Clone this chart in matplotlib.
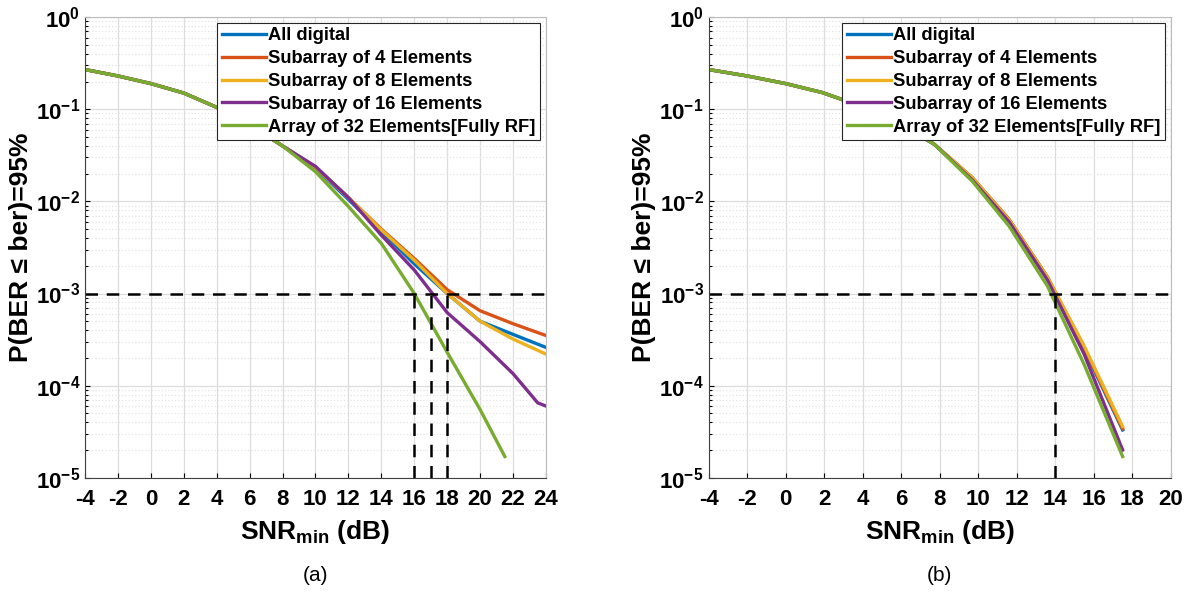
import numpy as np
import matplotlib
matplotlib.use('Agg')
import matplotlib.pyplot as plt
from matplotlib.ticker import FixedLocator, FuncFormatter, LogLocator, NullFormatter

plt.rcParams['font.family'] = ['Liberation Sans', 'DejaVu Sans']
plt.rcParams['mathtext.fontset'] = 'custom'
plt.rcParams['mathtext.rm'] = 'Liberation Sans'
plt.rcParams['mathtext.bf'] = 'Liberation Sans:bold'
plt.rcParams['axes.unicode_minus'] = False

labels = ['All digital', 'Subarray of 4 Elements', 'Subarray of 8 Elements',
          'Subarray of 16 Elements', 'Array of 32 Elements[Fully RF]']
colors = ['#0072BD', '#D95319', '#EDB120', '#7E2F8E', '#77AC30']

# (a) 数据
snr_a = [-4, -2, 0, 2, 4, 6, 8, 10, 12, 14, 16, 18, 20, 22, 24]
digital_a = [0.27, 0.23, 0.19, 0.15, 0.105, 0.068, 0.04, 0.023, 0.0105, 0.0047, 0.0021, 0.00100, 0.00050, 0.00036, 0.00026]
sub4_a = [0.27, 0.23, 0.19, 0.15, 0.105, 0.068, 0.04, 0.0235, 0.011, 0.0050, 0.0024, 0.00110, 0.00065, 0.00047, 0.00035]
sub8_a = [0.27, 0.23, 0.19, 0.15, 0.105, 0.068, 0.04, 0.0235, 0.011, 0.0049, 0.0023, 0.00100, 0.00050, 0.00032, 0.00022]
snr16_a = [-4, -2, 0, 2, 4, 6, 8, 10, 12, 14, 16, 18, 20, 22, 23.5, 24]
sub16_a = [0.27, 0.23, 0.19, 0.15, 0.105, 0.068, 0.04, 0.024, 0.011, 0.0043, 0.0018, 0.00062, 0.00030, 0.000135, 0.000065, 0.00006]
snr32_a = [-4, -2, 0, 2, 4, 6, 8, 10, 12, 14, 16, 18, 20, 21.5]
full_a = [0.27, 0.23, 0.19, 0.15, 0.105, 0.068, 0.04, 0.021, 0.0088, 0.0035, 0.0010, 0.00023, 0.000055, 0.000017]
cross_a = [16, 17, 18]

# (b) 数据
snr_b = [-4, -2, 0, 1.9, 3.8, 5.8, 7.7, 9.7, 11.6, 13.6, 15.5, 17.5]
digital_b = [0.27, 0.23, 0.19, 0.152, 0.11, 0.072, 0.042, 0.018, 0.0063, 0.0015, 0.00025, 0.000033]
sub4_b = [0.27, 0.23, 0.19, 0.152, 0.11, 0.072, 0.042, 0.018, 0.0064, 0.0015, 0.00026, 0.000034]
sub8_b = [0.27, 0.23, 0.19, 0.152, 0.11, 0.072, 0.042, 0.018, 0.0063, 0.0015, 0.00027, 0.000036]
sub16_b = [0.27, 0.23, 0.19, 0.152, 0.11, 0.072, 0.042, 0.017, 0.0060, 0.0014, 0.00022, 0.000020]
full_b = [0.27, 0.23, 0.19, 0.152, 0.11, 0.072, 0.042, 0.0165, 0.0054, 0.0012, 0.00017, 0.000017]
cross_b = [14]

target = 1e-3

fig = plt.figure(figsize=(11.91, 5.92), dpi=100)
ax_a = fig.add_axes([0.0714, 0.193, 0.387, 0.778])
ax_b = fig.add_axes([0.595, 0.193, 0.388, 0.778])


def style(ax, xmax, xticks):
    ax.set_yscale('log')
    ax.set_xlim(-4, xmax)
    ax.set_ylim(1e-5, 1)
    ax.xaxis.set_major_locator(FixedLocator(xticks))
    ax.yaxis.set_major_locator(LogLocator(base=10, numticks=10))
    ax.yaxis.set_minor_locator(LogLocator(base=10, subs=np.arange(2, 10), numticks=10))
    ax.yaxis.set_minor_formatter(NullFormatter())
    ax.yaxis.set_major_formatter(FuncFormatter(
        lambda v, p: r'$\mathbf{10^{%d}}$' % int(round(np.log10(v)))))
    ax.grid(True, which='major', color='#dddddd', linewidth=0.9)
    ax.grid(True, which='minor', axis='y', color='#e4e4e4', linestyle=':', linewidth=0.9)
    ax.tick_params(which='both', direction='in', labelsize=16, width=0.8)
    ax.tick_params(axis='x', pad=8)
    for t in ax.get_xticklabels():
        t.set_fontweight('bold')
    for s in ['left', 'bottom']:
        ax.spines[s].set_color('#404040')
    for s in ['top', 'right']:
        ax.spines[s].set_color('#bbbbbb')
    ax.set_xlabel(r'SNR$_{\mathbf{min}}$ (dB)', fontsize=19, fontweight='bold', labelpad=6)
    ax.set_ylabel('P(BER ≤ ber)=95%', fontsize=19, fontweight='bold', labelpad=2)
    ax.set_axisbelow(True)


# (a)
ax_a.plot(snr_a, digital_a, color=colors[0], lw=2.4, label=labels[0])
ax_a.plot(snr_a, sub4_a, color=colors[1], lw=2.4, label=labels[1])
ax_a.plot(snr_a, sub8_a, color=colors[2], lw=2.4, label=labels[2])
ax_a.plot(snr16_a, sub16_a, color=colors[3], lw=2.4, label=labels[3])
ax_a.plot(snr32_a, full_a, color=colors[4], lw=2.4, label=labels[4])
ax_a.plot([-4, 24], [target, target], 'k--', lw=1.8, dashes=(5, 3.5))
for c in cross_a:
    ax_a.plot([c, c], [1e-5, target], 'k--', lw=1.8, dashes=(5, 3.5))
style(ax_a, 24, list(range(-4, 25, 2)))

# (b)
ax_b.plot(snr_b, digital_b, color=colors[0], lw=2.4, label=labels[0])
ax_b.plot(snr_b, sub4_b, color=colors[1], lw=2.4, label=labels[1])
ax_b.plot(snr_b, sub8_b, color=colors[2], lw=2.4, label=labels[2])
ax_b.plot(snr_b, sub16_b, color=colors[3], lw=2.4, label=labels[3])
ax_b.plot(snr_b, full_b, color=colors[4], lw=2.4, label=labels[4])
ax_b.plot([-4, 20], [target, target], 'k--', lw=1.8, dashes=(5, 3.5))
for c in cross_b:
    ax_b.plot([c, c], [1e-5, target], 'k--', lw=1.8, dashes=(5, 3.5))
style(ax_b, 20, list(range(-4, 21, 2)))

for ax in [ax_a, ax_b]:
    leg = ax.legend(loc='upper right', prop={'weight': 'bold', 'size': 13.2},
                    handlelength=2.4, handletextpad=0.15, labelspacing=0.32,
                    borderpad=0.25, borderaxespad=0.3, fancybox=False,
                    framealpha=1, edgecolor='#262626')
    leg.get_frame().set_linewidth(0.8)

fig.text(0.265, 0.018, '(a)', fontsize=15, ha='center')
fig.text(0.789, 0.018, '(b)', fontsize=15, ha='center')

fig.savefig('out.png', dpi=100)
